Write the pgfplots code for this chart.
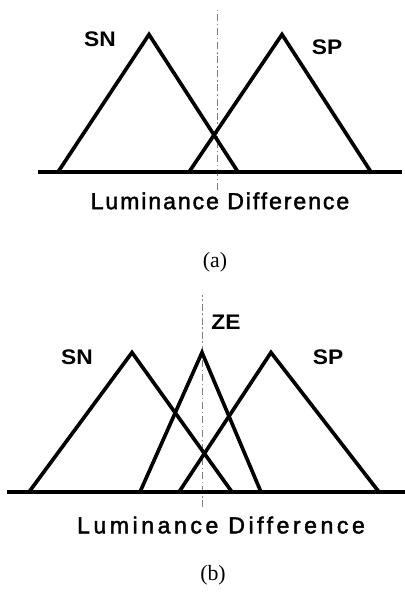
\documentclass[border=0pt]{standalone}
\usepackage{fontspec}
\setmainfont{Liberation Sans}
\newfontfamily\capfont{Liberation Serif}
\newfontfamily\labA[LetterSpace=8,FakeBold=1.8]{Liberation Sans}
\newfontfamily\labB[LetterSpace=15,FakeBold=1.8]{Liberation Sans}
\usepackage{pgfplots}
\pgfplotsset{compat=1.18}

% one picture pixel = 0.025cm
\pgfplotsset{
  mf/.style={hide axis, scale only axis, clip=false, width=10.125cm},
  tri/.style={black, line width=2.6pt, line join=miter, no marks},
  guide/.style={gray, line width=0.5pt, dash pattern=on 5pt off 2pt on 1pt off 2pt},
}
\newcommand\mfname[1]{\bfseries\fontsize{15pt}{16pt}\selectfont\scalebox{1.08}[1]{#1}}

\begin{document}
\begin{tikzpicture}
\useasboundingbox (0,0) rectangle (10.125cm,15.025cm);
% (a)
\begin{axis}[mf, at={(0,7.775cm)}, anchor=south west, height=7.25cm,
  xmin=-217, xmax=188, ymin=-0.858, ymax=1.251]
\addplot[guide] coordinates {(0,-0.13)(0,1.19)};
\addplot[tri, line width=2.8pt] coordinates {(-179,0)(185,0)};
\addplot[tri] coordinates {(-159,0)(-68,1)(21,0)};
\addplot[tri] coordinates {(-28,0)(65,1)(154,0)};
\node at (axis cs:-117,0.967) {\mfname{SN}};
\node at (axis cs:110,0.909) {\mfname{SP}};
\node at (axis cs:3,-0.21) {\labA\fontsize{16.5pt}{17pt}\selectfont Luminance Difference};
\node at (axis cs:-2,-0.655) {\capfont\fontsize{15.5pt}{16pt}\selectfont (a)};
\end{axis}
% (b)
\begin{axis}[mf, at={(0,0)}, anchor=south west, height=7.775cm,
  xmin=-202, xmax=203, ymin=-0.781, ymax=1.448]
\addplot[guide] coordinates {(0,-0.11)(0,1.41)};
\addplot[tri, line width=2.8pt] coordinates {(-195,0)(203,0)};
\addplot[tri] coordinates {(-173,0)(-70,1)(30,0)};
\addplot[tri] coordinates {(-62,0)(0,1)(59,0)};
\addplot[tri] coordinates {(-23,0)(69,1)(177,0)};
\node at (axis cs:-125,0.968) {\mfname{SN}};
\node at (axis cs:24,1.219) {\mfname{ZE}};
\node at (axis cs:126,0.968) {\mfname{SP}};
\node at (axis cs:19,-0.237) {\labB\fontsize{16.5pt}{17pt}\selectfont Luminance Difference};
\node at (axis cs:11,-0.595) {\capfont\fontsize{15.5pt}{16pt}\selectfont (b)};
\end{axis}
\end{tikzpicture}
\end{document}
